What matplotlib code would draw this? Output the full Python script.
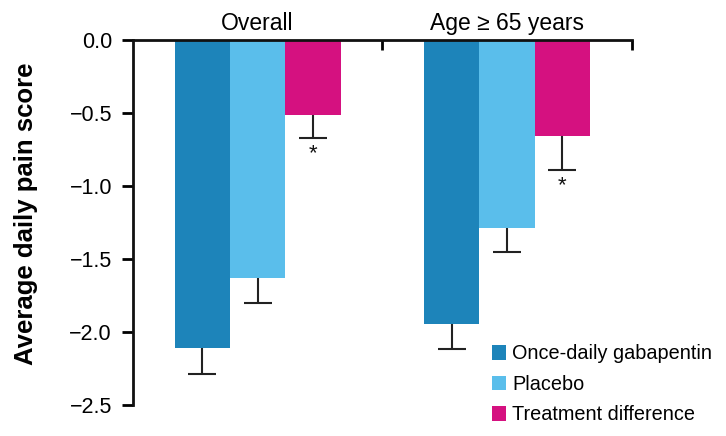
import matplotlib
matplotlib.use("Agg")
import matplotlib.pyplot as plt
import numpy as np
from matplotlib.patches import Patch

plt.rcParams['font.family'] = ['Liberation Sans', 'DejaVu Sans']

groups = ["Overall", "Age \u2265 65 years"]
series = ["Once-daily gabapentin", "Placebo", "Treatment difference"]
means = [
    [-2.11, -1.63, -0.51],
    [-1.945, -1.29, -0.66],
]
errors = [
    [0.18, 0.17, 0.16],
    [0.17, 0.16, 0.23],
]
signif = [[False, False, True], [False, False, True]]
colors = ["#1d84ba", "#5abeeb", "#d51180"]

fig = plt.figure(figsize=(7.26, 4.36), dpi=100)
ax = fig.add_axes([0.183, 0.071, 0.687, 0.837])

width = 0.222
x = np.arange(len(groups))
for j, name in enumerate(series):
    vals = np.array([means[g][j] for g in range(len(groups))])
    errs = np.array([errors[g][j] for g in range(len(groups))])
    pos = x + (j - 1) * width
    ax.bar(pos, vals, width, color=colors[j], label=name, zorder=2)
    # lower error only, cap at the bottom
    ax.vlines(pos, vals - errs, vals, color='#222222', linewidth=1.5, zorder=3)
    ax.plot(pos, vals - errs, linestyle='none', marker='_', markersize=20,
            markeredgewidth=1.5, color='#222222', zorder=3)
    for g in range(len(groups)):
        if signif[g][j]:
            ax.text(pos[g], vals[g] - errs[g] - 0.035, "*", ha='center', va='top',
                    fontsize=16, color='#111111')

ax.set_xlim(-0.5, 1.5)
ax.set_ylim(-2.5, 0)
ax.set_yticks(np.arange(-2.5, 0.01, 0.5))
ax.set_yticklabels(["\u22122.5", "\u22122.0", "\u22121.5", "\u22121.0", "\u22120.5", "0.0"])
ax.tick_params(axis='y', direction='out', length=8, width=2, labelsize=15.5, pad=7)

ax.xaxis.tick_top()
ax.set_xticks([0.5, 1.5])
ax.set_xticklabels([])
ax.tick_params(axis='x', direction='in', length=7, width=2)

for side in ['bottom', 'right']:
    ax.spines[side].set_visible(False)
for side in ['left', 'top']:
    ax.spines[side].set_linewidth(2)
    ax.spines[side].set_color('#111111')

for g, label in enumerate(groups):
    ax.text(x[g], 0.035, label, ha='center', va='bottom', fontsize=16.5)

ax.set_ylabel("Average daily pain score", fontsize=18.5, fontweight='bold')
ax.yaxis.set_label_coords(-0.19, 0.523)

handles = [Patch(facecolor=c, edgecolor='none') for c in colors]
fig.legend(handles, series, loc='upper left', bbox_to_anchor=(0.677, 0.21),
           frameon=False, fontsize=14.3, handlelength=0.75, handleheight=0.75,
           handletextpad=0.3, labelspacing=0.58, borderpad=0, borderaxespad=0)

fig.savefig("out.png", dpi=100)
